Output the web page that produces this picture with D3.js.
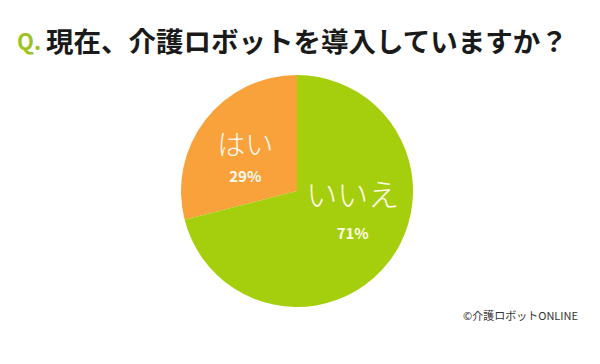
<!DOCTYPE html>
<html>
<head>
<meta charset="utf-8">
<script src="https://cdn.jsdelivr.net/npm/d3@7"></script>
<style>
  body { margin: 0; background: #fff; }
  svg { display: block; font-family: "Noto Sans CJK JP", "Noto Sans", sans-serif; }
</style>
</head>
<body>
<script>
const width = 600;
const height = 364;

// chart data
const categories = ["はい", "いいえ"];
const percents = [29, 71];
const colors = ["#f9a23c", "#a5cf0c"];

const svg = d3.select("body").append("svg")
  .attr("width", width)
  .attr("height", height);

// title
svg.append("text")
  .attr("x", 17)
  .attr("y", 50)
  .attr("fill", "#9dc41c")
  .attr("font-weight", "bold")
  .attr("font-size", 22)
  .text("Q.");
svg.append("text")
  .attr("x", 46)
  .attr("y", 52)
  .attr("font-size", 27.5)
  .attr("font-weight", "bold")
  .attr("fill", "#1a1a1a")
  .text("現在、介護ロボットを導入していますか？");

const cx = 297, cy = 191, r = 116;

const pie = d3.pie()
  .sort(null)
  .startAngle(0)
  .endAngle(-2 * Math.PI)
  .value(d => d);

const arcs = pie(percents);
const arc = d3.arc().innerRadius(0).outerRadius(r);
const labelArc = d3.arc().innerRadius(68).outerRadius(68);

const g = svg.append("g").attr("transform", `translate(${cx},${cy})`);

g.selectAll("path")
  .data(arcs)
  .join("path")
  .attr("d", arc)
  .attr("fill", (d, i) => colors[i]);

// label offsets relative to centroid: [name dy, pct dy, dx]
const labelShift = [[-4, 28, 2], [-38, 1, 2]];
const nameSize = [28, 31];

const lab = g.selectAll("g.lab")
  .data(arcs)
  .join("g")
  .attr("class", "lab")
  .attr("transform", (d, i) => {
    const c = labelArc.centroid(d);
    return `translate(${c[0] + labelShift[i][2]},${c[1]})`;
  });

lab.append("text")
  .attr("text-anchor", "middle")
  .attr("dy", (d, i) => labelShift[i][0] + nameSize[i] * 0.36)
  .attr("font-size", (d, i) => nameSize[i])
  .attr("font-weight", 300)
  .attr("fill", "#fffbee")
  .text((d, i) => categories[i]);

lab.append("text")
  .attr("text-anchor", "middle")
  .attr("dy", (d, i) => labelShift[i][1] + 5)
  .attr("font-size", 15)
  .attr("font-weight", "bold")
  .attr("fill", "#fffbee")
  .text(d => d.data + "%");

// credit
svg.append("text")
  .attr("x", 578)
  .attr("y", 320)
  .attr("text-anchor", "end")
  .attr("font-size", 11)
  .attr("fill", "#333")
  .text("©介護ロボットONLINE");
</script>
</body>
</html>
